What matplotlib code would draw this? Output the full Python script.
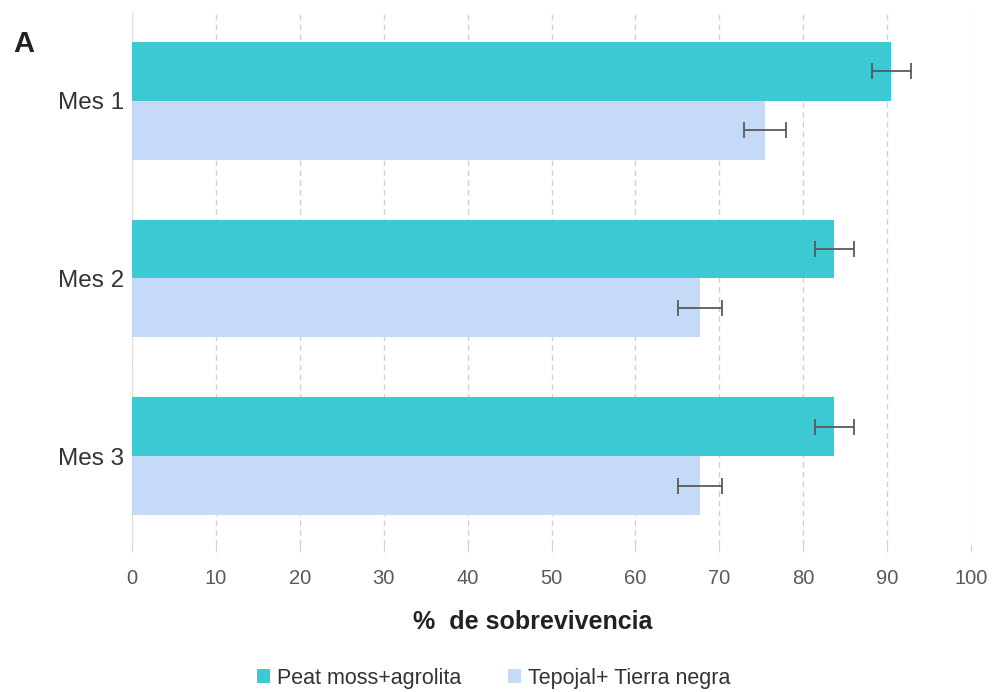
import matplotlib.pyplot as plt
import numpy as np

# datos
meses = ["Mes 1", "Mes 2", "Mes 3"]
peat = [90.5, 83.7, 83.7]
peat_err = [2.3, 2.3, 2.3]
tepojal = [75.4, 67.7, 67.7]
tepojal_err = [2.5, 2.6, 2.6]
serie_nombres = ["Peat moss+agrolita", "Tepojal+ Tierra negra"]
xticks = list(range(0, 101, 10))

plt.rcParams['font.family'] = ['Liberation Sans', 'DejaVu Sans']

fig = plt.figure(figsize=(9.95, 6.92), dpi=100)
ax = fig.add_axes([0.1327, 0.2124, 0.8433, 0.7703])

y = np.arange(len(meses))
h = 0.331
err_kw = dict(ecolor="#5a5a5a", elinewidth=1.3, capsize=6, capthick=1.3)

ax.barh(y - h / 2, peat, height=h, color="#3cc9d3", xerr=peat_err,
        error_kw=err_kw, label=serie_nombres[0], zorder=3)
ax.barh(y + h / 2, tepojal, height=h, color="#c4daf7", xerr=tepojal_err,
        error_kw=err_kw, label=serie_nombres[1], zorder=3)

ax.set_ylim(2.5, -0.5)
ax.set_xlim(0, 100)
ax.set_yticks(y)
ax.set_yticklabels(meses, fontsize=17.5, color="#333333")
ax.set_xticks(xticks)
ax.set_xticklabels([str(t) for t in xticks], fontsize=14.5, color="#595959")

ax.grid(axis='x', linestyle=(0, (4, 3)), color="#d0d0d0", linewidth=1, zorder=0)
for s in ["top", "right", "bottom"]:
    ax.spines[s].set_visible(False)
ax.spines["left"].set_color("#e0e0e0")
ax.tick_params(axis='y', length=0, pad=6)
ax.tick_params(axis='x', length=5, color="#d0d0d0", pad=12)

ax.set_xlabel("%  de sobrevivencia", fontsize=18, fontweight="bold", color="#222222")
ax.xaxis.set_label_coords(0.477, -0.122)

fig.text(0.013, 0.925, "A", fontsize=21, fontweight="bold", color="#222222")

ax.legend(loc="center", bbox_to_anchor=(0.431, -0.25), ncol=2, frameon=False,
          fontsize=15.5, handlelength=0.6, handleheight=0.6, handletextpad=0.3,
          columnspacing=2.2, labelcolor="#333333")

fig.savefig("out.png", dpi=100)
